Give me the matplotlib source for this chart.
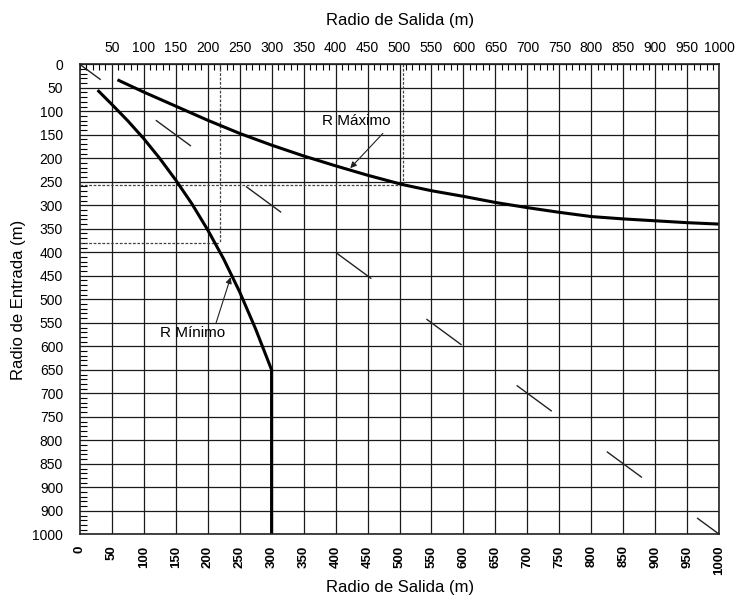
import numpy as np
import matplotlib
matplotlib.use("Agg")
import matplotlib.pyplot as plt

plt.rcParams['font.family'] = ['Liberation Sans', 'DejaVu Sans']

# curves (x = Radio de Salida, y = Radio de Entrada)
rmax_x = [59, 100, 150, 200, 250, 300, 350, 400, 450, 505, 550, 600, 650, 700, 750, 800, 850, 900, 950, 1000]
rmax_y = [33, 59, 89, 119, 147, 172, 195, 216, 236, 256, 269, 281, 294, 305, 315, 324, 329, 333, 337, 340]

rmin_x = [28, 50, 75, 100, 125, 150, 175, 200, 225, 250, 275, 300, 300]
rmin_y = [55, 85, 120, 158, 200, 246, 296, 352, 414, 484, 563, 650, 1000]

diag = [0, 1000]

# example reading lines (dashed)
ex1_x, ex1_y = 220, 380
ex2_x, ex2_y = 505, 257

top_ticks = list(range(50, 1001, 50))
bottom_ticks = list(range(0, 1001, 50))
y_ticks = list(range(0, 1001, 50))
y_labels = [str(v) for v in y_ticks]
y_labels[-2] = '900'  # the original sheet repeats 900

fig = plt.figure(figsize=(7.36, 5.98), dpi=100)
ax = fig.add_axes([0.1083, 0.1065, 0.8690, 0.7860])

ax.set_xlim(0, 1000)
ax.set_ylim(1000, 0)

ax.grid(which='major', color='#1a1a1a', lw=0.9)
ax.set_axisbelow(True)

# diagonal 1:1 reference (lw 1 so dash lengths stay in points)
ax.plot(diag, diag, color='#222222', lw=1.0, linestyle=(12.6, (31.4, 49.2)))

# dashed example lines
dash = dict(color='#444444', lw=0.9, linestyle=(0, (2.2, 1.3)))
ax.plot([ex1_x, ex1_x], [0, ex1_y], **dash)
ax.plot([0, ex1_x], [ex1_y, ex1_y], **dash)
ax.plot([ex2_x, ex2_x], [0, ex2_y], **dash)
ax.plot([0, ex2_x], [ex2_y, ex2_y], **dash)

ax.plot(rmax_x, rmax_y, color='black', lw=2.2, solid_capstyle='butt', solid_joinstyle='round')
ax.plot(rmin_x, rmin_y, color='black', lw=2.2, solid_capstyle='butt', solid_joinstyle='round')

arrow = dict(arrowstyle='-|>', color='#222222', lw=0.8, mutation_scale=9, shrinkA=0, shrinkB=0)
ax.annotate('', xy=(423, 221), xytext=(474, 147), arrowprops=arrow)
ax.text(432, 121, 'R Máximo', ha='center', va='center', fontsize=11)
ax.annotate('', xy=(236, 453), xytext=(213, 551), arrowprops=arrow)
ax.text(176, 571, 'R Mínimo', ha='center', va='center', fontsize=11)

# top axis
ax.xaxis.tick_top()
ax.set_xticks(top_ticks)
ax.set_xticklabels([str(v) for v in top_ticks], fontsize=10)
ax.set_xticks(np.arange(0, 1001, 10), minor=True)
ax.tick_params(axis='x', which='major', length=0, pad=7)
ax.tick_params(axis='x', which='minor', direction='in', length=4, width=0.8, top=True, bottom=False)

# left axis
ax.set_yticks(y_ticks)
ax.set_yticklabels(y_labels, fontsize=10)
ax.set_yticks(np.arange(0, 1001, 10), minor=True)
ax.tick_params(axis='y', which='major', length=0, pad=12)
ax.tick_params(axis='y', which='minor', direction='in', length=5, width=0.8, left=True, right=False)

# bottom axis, rotated labels
sec = ax.secondary_xaxis('bottom')
sec.set_xticks(bottom_ticks)
sec.set_xticklabels([str(v) for v in bottom_ticks], rotation=90, fontsize=9.5, fontweight='bold')
sec.tick_params(length=0, pad=8)
for s in sec.spines.values():
    s.set_visible(False)

for s in ax.spines.values():
    s.set_linewidth(1.2)
    s.set_color('#222222')

fig.text(0.543, 0.966, 'Radio de Salida (m)', ha='center', va='center', fontsize=12)
fig.text(0.543, 0.017, 'Radio de Salida (m)', ha='center', va='center', fontsize=12)
fig.text(0.0245, 0.499, 'Radio de Entrada (m)', ha='center', va='center', rotation=90, fontsize=12)

fig.savefig('out.png', dpi=100)
